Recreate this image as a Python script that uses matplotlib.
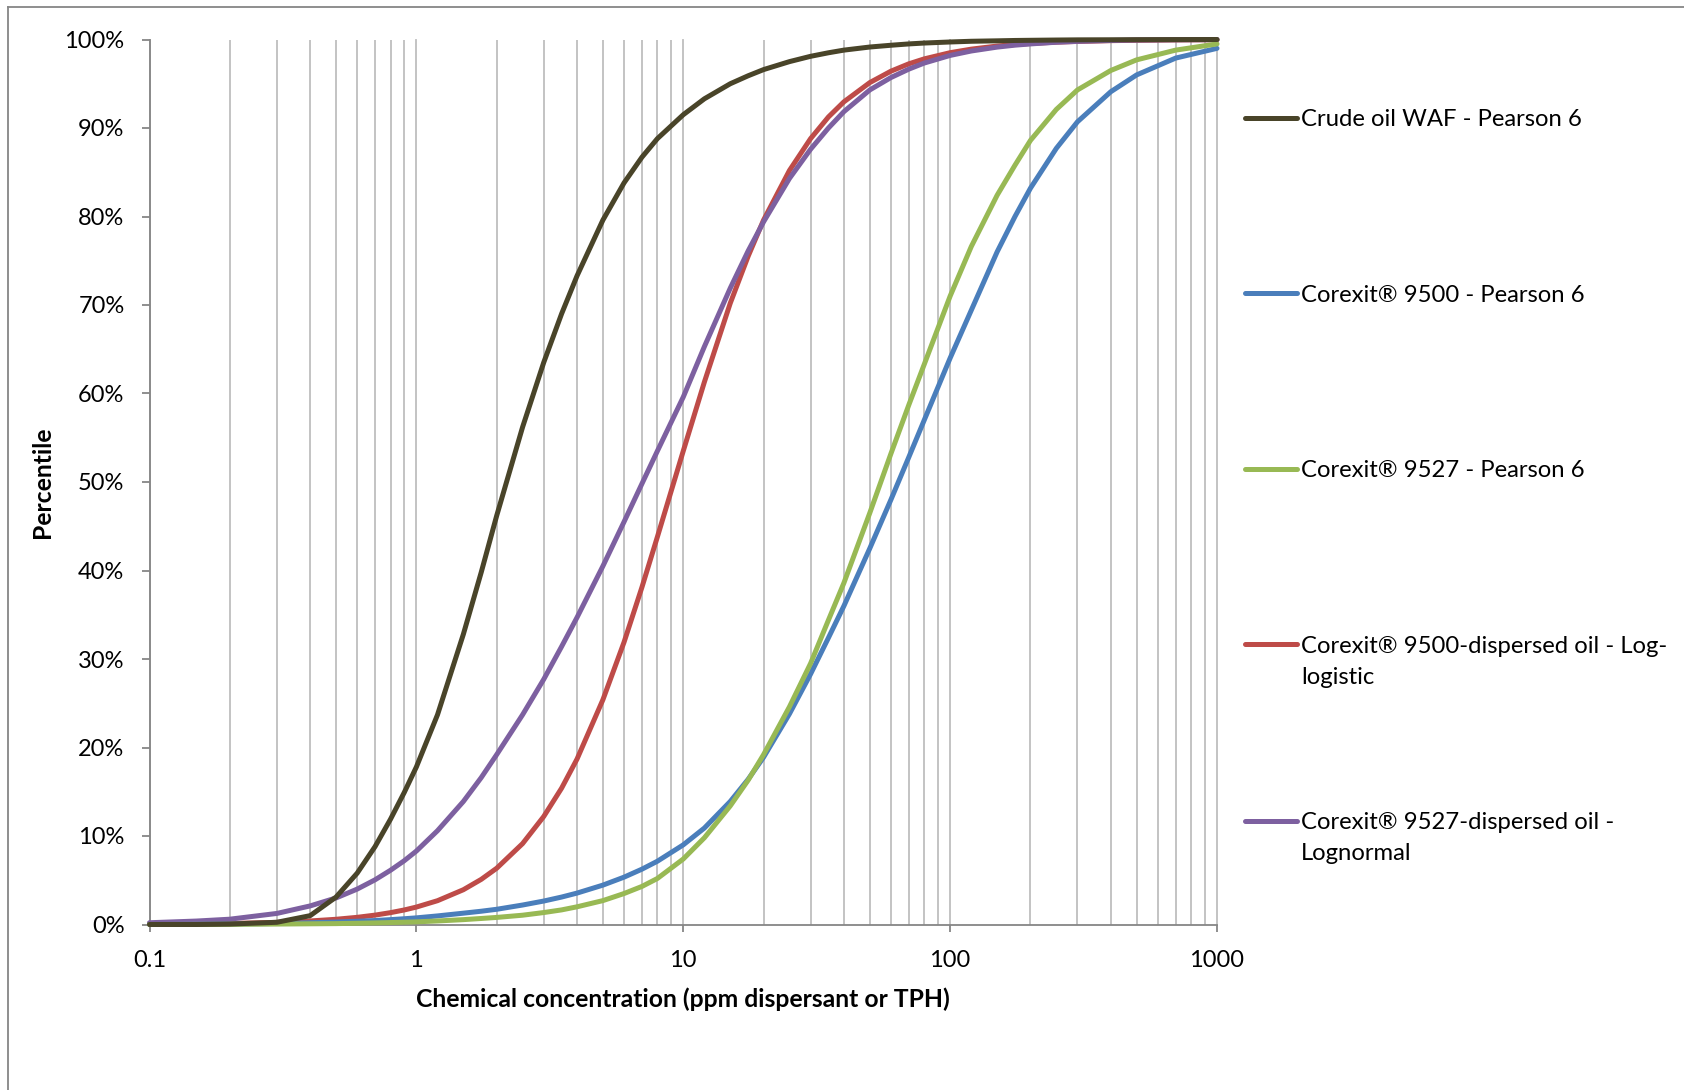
### Species sensitivity distributions for oil, dispersants and dispersed oil

import matplotlib
matplotlib.use('Agg')

import matplotlib.pyplot as plt
import numpy as np
from matplotlib.lines import Line2D
from matplotlib.ticker import LogLocator, NullFormatter, PercentFormatter

##### DATA #####

# Concentration (ppm dispersant or TPH)
conc = [0.1, 0.15, 0.2, 0.3, 0.4, 0.5, 0.6, 0.7, 0.8, 0.9,
        1, 1.2, 1.5, 1.75, 2, 2.5, 3, 3.5, 4, 5,
        6, 7, 8, 10, 12, 15, 17.5, 20, 25, 30,
        35, 40, 50, 60, 70, 80, 100, 120, 150, 175,
        200, 250, 300, 400, 500, 700, 1000]

# Percentile of each fitted distribution (%)
crude = [0, 0, 0.05, 0.25, 1.0, 3.1, 5.8, 8.8, 11.9, 14.9,
         17.8, 23.7, 32.8, 39.8, 46.2, 56.2, 63.5, 69.0, 73.3, 79.6,
         83.8, 86.7, 88.8, 91.5, 93.3, 95.0, 95.9, 96.6, 97.5, 98.1,
         98.5, 98.8, 99.15, 99.35, 99.5, 99.6, 99.72, 99.8, 99.85, 99.89,
         99.91, 99.94, 99.96, 99.97, 99.98, 99.99, 100]
c9500 = [0, 0.02, 0.05, 0.12, 0.2, 0.28, 0.37, 0.45, 0.55, 0.65,
         0.75, 0.97, 1.28, 1.5, 1.72, 2.2, 2.65, 3.1, 3.55, 4.45,
         5.35, 6.25, 7.15, 9.0, 10.9, 13.9, 16.4, 18.9, 23.8, 28.3,
         32.4, 36.0, 42.5, 48.0, 52.8, 57.0, 64.0, 69.4, 76.0, 80.0,
         83.2, 87.7, 90.7, 94.1, 96.0, 97.9, 99.0]
c9527 = [0, 0.01, 0.02, 0.05, 0.08, 0.1, 0.14, 0.18, 0.22, 0.26,
         0.3, 0.4, 0.55, 0.68, 0.8, 1.05, 1.35, 1.65, 2.0, 2.7,
         3.5, 4.3, 5.2, 7.4, 9.8, 13.4, 16.3, 19.2, 24.6, 29.5,
         34.4, 38.6, 46.5, 53.2, 58.7, 63.3, 71.0, 76.6, 82.4, 85.8,
         88.6, 92.1, 94.3, 96.5, 97.7, 98.8, 99.5]
d9500 = [0.04, 0.07, 0.12, 0.24, 0.4, 0.59, 0.81, 1.06, 1.34, 1.64,
         1.97, 2.69, 3.93, 5.1, 6.36, 9.14, 12.2, 15.4, 18.7, 25.4,
         31.9, 38.1, 43.8, 53.5, 61.3, 70.2, 75.5, 79.6, 85.2, 88.8,
         91.25, 92.96, 95.13, 96.42, 97.25, 97.81, 98.51, 98.91, 99.26, 99.44,
         99.55, 99.7, 99.78, 99.87, 99.91, 99.95, 99.97]
d9527 = [0.2, 0.39, 0.6, 1.25, 2.1, 3.0, 4.0, 5.05, 6.13, 7.2,
         8.3, 10.6, 13.9, 16.6, 19.2, 23.7, 27.7, 31.4, 34.7, 40.5,
         45.5, 49.8, 53.5, 59.6, 65.3, 71.9, 76.1, 79.4, 84.3, 87.6,
         90.0, 91.85, 94.3, 95.7, 96.65, 97.34, 98.2, 98.7, 99.14, 99.36,
         99.5, 99.69, 99.79, 99.89, 99.94, 99.97, 99.99]

series = [crude, c9500, c9527, d9500, d9527]
names = [['Crude oil WAF - Pearson 6'],
         ['Corexit\u00ae 9500 - Pearson 6'],
         ['Corexit\u00ae 9527 - Pearson 6'],
         ['Corexit\u00ae 9500-dispersed oil - Log-', 'logistic'],
         ['Corexit\u00ae 9527-dispersed oil -', 'Lognormal']]
colors = ['#494429', '#4A7EBB', '#98B954', '#BE4B48', '#7D60A0']

xticks = [0.1, 1, 10, 100, 1000]
xticklabels = ['0.1', '1', '10', '100', '1000']

##### PLOT #####

plt.rcParams['font.family'] = ['Lato', 'DejaVu Sans']

W, H = 1684, 1090
fig = plt.figure(figsize=(W/100, H/100), dpi=100)

# pixel -> figure fraction
def fx(px):
    return px/W

def fy(py):
    return 1 - py/H

ax = fig.add_axes([fx(149.5), fy(924.5), fx(1217) - fx(149.5), fy(39.5) - fy(924.5)])

# Draw order: dispersed oil curves under the others
order = [3, 4, 1, 2, 0]
for i in order:
    ax.plot(conc, np.array(series[i])/100.0, color=colors[i], lw=3.6,
            solid_capstyle='round', solid_joinstyle='round', clip_on=False, zorder=3)

ax.set_xscale('log')
ax.set_xlim(0.1, 1000)
ax.set_ylim(0, 1)
ax.set_xticks(xticks)
ax.set_xticklabels(xticklabels)
ax.xaxis.set_minor_locator(LogLocator(base=10, subs=np.arange(2, 10)))
ax.xaxis.set_minor_formatter(NullFormatter())
ax.set_yticks(np.linspace(0, 1, 11))
ax.yaxis.set_major_formatter(PercentFormatter(1.0, decimals=0))

# Vertical gridlines only
ax.grid(axis='x', which='both', color='#BEBEBE', lw=1.3)
ax.set_axisbelow(True)
for t in ax.xaxis.get_major_ticks():
    t.gridline.set_clip_on(False)

for s in ['top', 'right']:
    ax.spines[s].set_visible(False)
for s in ['left', 'bottom']:
    ax.spines[s].set_color('#868686')
    ax.spines[s].set_linewidth(1.3)
    ax.spines[s].set_zorder(2.5)

ax.tick_params(axis='y', direction='out', length=6, width=1.3, color='#868686',
               pad=12, labelsize=17, labelcolor='black')
ax.tick_params(axis='x', which='major', direction='out', length=4.8, width=1.3,
               color='#868686', pad=13.5, labelsize=17, labelcolor='black')
ax.tick_params(axis='x', which='minor', length=0)

# Axis titles
fig.text(fx(683), fy(1007), 'Chemical concentration (ppm dispersant or TPH)',
         ha='center', va='baseline', fontsize=17.8, fontweight='bold')
fig.text(fx(42), fy(482), 'Percentile', rotation=90, ha='center', va='center',
         fontsize=17.8, fontweight='bold')

# Legend drawn by hand to keep Excel's spacing
leg_y = [117.7, 293.3, 468.8, 644.3, 820.7]
for i in range(len(series)):
    y = leg_y[i]
    fig.add_artist(Line2D([fx(1245), fx(1297)], [fy(y), fy(y)], color=colors[i], lw=3.6,
                          solid_capstyle='round', transform=fig.transFigure))
    for j, line in enumerate(names[i]):
        fig.text(fx(1301), fy(y + 8.5 + 31*j), line, ha='left', va='baseline', fontsize=17.2)

# Chart border (cropped at right and bottom)
fig.add_artist(Line2D([fx(8.4), 1], [fy(7.3), fy(7.3)], color='#868686', lw=1.3,
                      transform=fig.transFigure))
fig.add_artist(Line2D([fx(8.4), fx(8.4)], [0, fy(7.3)], color='#868686', lw=1.3,
                      transform=fig.transFigure))

fig.savefig('out.png', dpi=100)
